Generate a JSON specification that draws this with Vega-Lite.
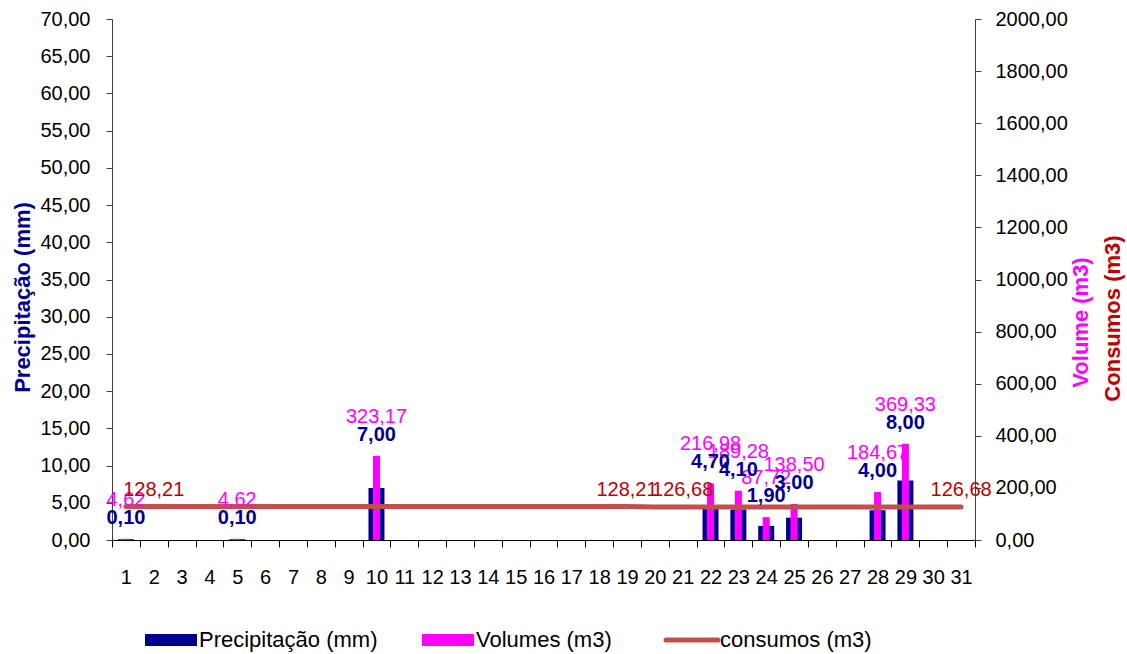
{
  "$schema": "https://vega.github.io/schema/vega-lite/v6.json",
  "width": 863,
  "height": 521,
  "autosize": {"type": "none"},
  "padding": {"left": 112, "top": 19, "right": 152, "bottom": 114},
  "background": "white",
  "config": {
    "locale": {"number": {"decimal": ",", "thousands": ".", "grouping": [3], "currency": ["", " €"]}},
    "font": "Liberation Sans",
    "view": {"stroke": null},
    "axis": {
      "grid": false,
      "labelFont": "Liberation Sans",
      "labelFontSize": 20,
      "labelColor": "#000000",
      "labelOverlap": false,
      "domainColor": "#404040",
      "tickColor": "#404040",
      "titleFont": "Liberation Sans",
      "titleFontSize": 22,
      "titleFontWeight": "bold"
    }
  },
  "data": {
    "values": [
      {"day": 1, "precip": 0.1, "volume": 4.62, "consumos": 128.21, "lbl": 0},
      {"day": 2, "precip": null, "volume": null, "consumos": 128.21, "lbl": 1},
      {"day": 3, "precip": null, "volume": null, "consumos": 128.21, "lbl": 0},
      {"day": 4, "precip": null, "volume": null, "consumos": 128.21, "lbl": 0},
      {"day": 5, "precip": 0.1, "volume": 4.62, "consumos": 128.21, "lbl": 0},
      {"day": 6, "precip": null, "volume": null, "consumos": 128.21, "lbl": 0},
      {"day": 7, "precip": null, "volume": null, "consumos": 128.21, "lbl": 0},
      {"day": 8, "precip": null, "volume": null, "consumos": 128.21, "lbl": 0},
      {"day": 9, "precip": null, "volume": null, "consumos": 128.21, "lbl": 0},
      {"day": 10, "precip": 7.0, "volume": 323.17, "consumos": 128.21, "lbl": 0},
      {"day": 11, "precip": null, "volume": null, "consumos": 128.21, "lbl": 0},
      {"day": 12, "precip": null, "volume": null, "consumos": 128.21, "lbl": 0},
      {"day": 13, "precip": null, "volume": null, "consumos": 128.21, "lbl": 0},
      {"day": 14, "precip": null, "volume": null, "consumos": 128.21, "lbl": 0},
      {"day": 15, "precip": null, "volume": null, "consumos": 128.21, "lbl": 0},
      {"day": 16, "precip": null, "volume": null, "consumos": 128.21, "lbl": 0},
      {"day": 17, "precip": null, "volume": null, "consumos": 128.21, "lbl": 0},
      {"day": 18, "precip": null, "volume": null, "consumos": 128.21, "lbl": 0},
      {"day": 19, "precip": null, "volume": null, "consumos": 128.21, "lbl": 1},
      {"day": 20, "precip": null, "volume": null, "consumos": 126.68, "lbl": 0},
      {"day": 21, "precip": null, "volume": null, "consumos": 126.68, "lbl": 1},
      {"day": 22, "precip": 4.7, "volume": 216.98, "consumos": 126.68, "lbl": 0},
      {"day": 23, "precip": 4.1, "volume": 189.28, "consumos": 126.68, "lbl": 0},
      {"day": 24, "precip": 1.9, "volume": 87.72, "consumos": 126.68, "lbl": 0},
      {"day": 25, "precip": 3.0, "volume": 138.5, "consumos": 126.68, "lbl": 0},
      {"day": 26, "precip": null, "volume": null, "consumos": 126.68, "lbl": 0},
      {"day": 27, "precip": null, "volume": null, "consumos": 126.68, "lbl": 0},
      {"day": 28, "precip": 4.0, "volume": 184.67, "consumos": 126.68, "lbl": 0},
      {"day": 29, "precip": 8.0, "volume": 369.33, "consumos": 126.68, "lbl": 0},
      {"day": 30, "precip": null, "volume": null, "consumos": 126.68, "lbl": 0},
      {"day": 31, "precip": null, "volume": null, "consumos": 126.68, "lbl": 1}
    ]
  },
  "encoding": {
    "x": {
      "field": "day",
      "type": "ordinal",
      "scale": {"paddingInner": 0, "paddingOuter": 0},
      "axis": {
        "title": null,
        "tickBand": "extent",
        "labelAngle": 0,
        "tickSize": 7,
        "labelPadding": 20,
        "domainColor": "#000000",
        "tickColor": "#000000"
      }
    }
  },
  "layer": [
    {
      "mark": {"type": "bar", "size": 16},
      "encoding": {
        "y": {
          "field": "precip",
          "type": "quantitative",
          "scale": {"domain": [0, 70]},
          "axis": {
            "orient": "left",
            "title": "Precipitação (mm)",
            "values": [0, 5, 10, 15, 20, 25, 30, 35, 40, 45, 50, 55, 60, 65, 70],
            "format": ".2f",
            "tickSize": 6,
            "labelPadding": 16,
            "titleColor": "#000090",
            "titleAngle": -90,
            "titleX": -90,
            "titleY": 278,
            "titleAlign": "center",
            "titleBaseline": "middle"
          }
        },
        "color": {
          "datum": "Precipitação (mm)",
          "scale": {
            "domain": ["Precipitação (mm)", "Volumes (m3)", "consumos (m3)"],
            "range": ["#000090", "#FF00FF", "#C0504D"]
          },
          "legend": {
            "orient": "none",
            "legendX": 48,
            "legendY": 610,
            "direction": "horizontal",
            "title": null,
            "padding": 0,
            "labelFont": "Liberation Sans",
            "labelFontSize": 22,
            "labelColor": "#000000",
            "labelOffset": 17,
            "labelLimit": 400,
            "columnPadding": 44,
            "symbolType": "M-1.3,-0.3H1.3V0.3H-1.3Z",
            "symbolSize": 1600,
            "symbolStrokeWidth": 0,
            "encode": {
              "symbols": {
                "update": {
                  "shape": {"signal": "datum.value === 'consumos (m3)' ? 'M-1.3,0H1.3' : 'M-1.3,-0.3H1.3V0.3H-1.3Z'"},
                  "fill": {"signal": "datum.value === 'consumos (m3)' ? 'transparent' : scale('color', datum.value)"},
                  "stroke": {"signal": "scale('color', datum.value)"},
                  "strokeWidth": {"signal": "datum.value === 'consumos (m3)' ? 5 : 0"},
                  "strokeCap": {"value": "round"},
                  "opacity": {"value": 1}
                }
              }
            }
          }
        }
      }
    },
    {
      "mark": {"type": "bar", "size": 7},
      "encoding": {
        "y": {
          "field": "volume",
          "type": "quantitative",
          "scale": {"domain": [0, 2000]},
          "axis": {
            "orient": "right",
            "title": "Volume (m3)",
            "values": [0, 200, 400, 600, 800, 1000, 1200, 1400, 1600, 1800, 2000],
            "format": ".2f",
            "tickSize": 6,
            "labelPadding": 14,
            "titleColor": "#FF00FF",
            "titleAngle": -90,
            "titleX": 105,
            "titleY": 303,
            "titleAlign": "center",
            "titleBaseline": "middle"
          }
        },
        "color": {"datum": "Volumes (m3)"}
      }
    },
    {
      "mark": {"type": "line", "strokeWidth": 5, "strokeCap": "round"},
      "encoding": {
        "y": {
          "field": "consumos",
          "type": "quantitative",
          "scale": {"domain": [0, 2000]},
          "axis": {
            "orient": "right",
            "title": "Consumos (m3)",
            "labels": false,
            "ticks": false,
            "domain": false,
            "titleColor": "#C00000",
            "titleAngle": -90,
            "titleX": 137,
            "titleY": 299,
            "titleAlign": "center",
            "titleBaseline": "middle"
          }
        },
        "color": {"datum": "consumos (m3)"}
      }
    },
    {
      "layer": [
        {
          "transform": [{"filter": "datum.volume != null"}],
          "mark": {"type": "text", "fontSize": 20, "color": "#FF00FF", "dy": -39, "baseline": "middle", "font": "Liberation Sans"},
          "encoding": {
            "y": {"field": "volume", "type": "quantitative", "scale": {"domain": [0, 2000]}, "axis": null},
            "text": {"field": "volume", "type": "quantitative", "format": ".2f"}
          }
        },
        {
          "transform": [{"filter": "datum.precip != null"}],
          "mark": {"type": "text", "fontSize": 20, "fontWeight": "bold", "color": "#000090", "dy": -21, "baseline": "middle", "font": "Liberation Sans"},
          "encoding": {
            "y": {"field": "volume", "type": "quantitative", "scale": {"domain": [0, 2000]}, "axis": null},
            "text": {"field": "precip", "type": "quantitative", "format": ".2f"}
          }
        },
        {
          "transform": [{"filter": "datum.lbl == 1"}],
          "mark": {"type": "text", "fontSize": 20, "color": "#C00000", "dy": -17, "baseline": "middle", "font": "Liberation Sans"},
          "encoding": {
            "y": {"field": "consumos", "type": "quantitative", "scale": {"domain": [0, 2000]}, "axis": null},
            "text": {"field": "consumos", "type": "quantitative", "format": ".2f"}
          }
        }
      ]
    }
  ],
  "resolve": {"scale": {"y": "independent"}, "axis": {"y": "independent"}}
}
